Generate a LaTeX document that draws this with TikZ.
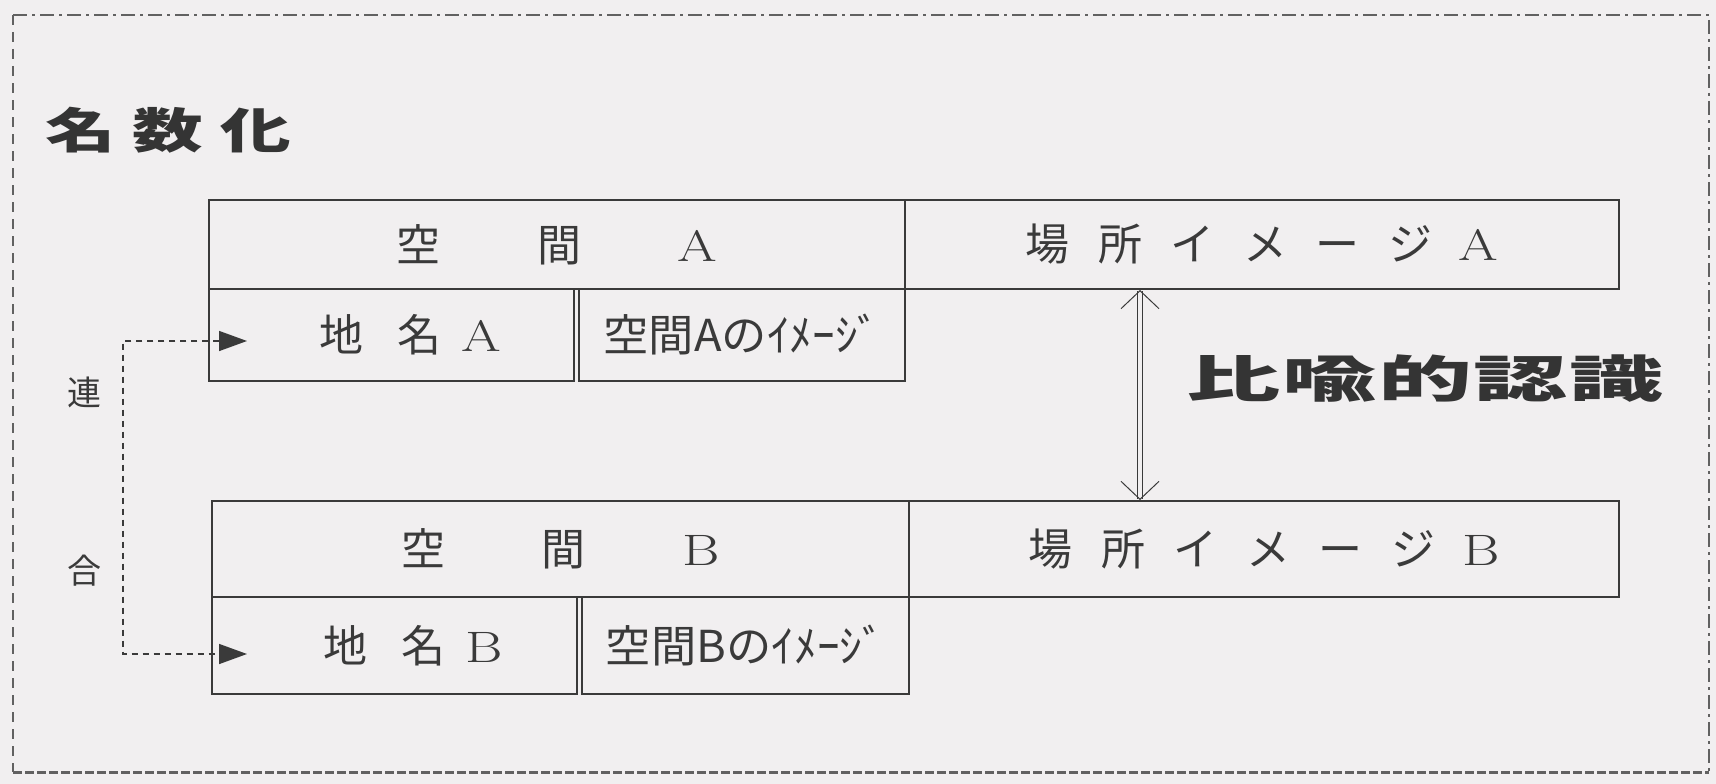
\documentclass[tikz,border=0pt]{standalone}
\usepackage{fontspec}
\usepackage{graphicx}
\usetikzlibrary{arrows.meta,calc}
\newfontfamily\jp{Noto Sans CJK JP}
\definecolor{bg}{RGB}{241,239,240}
\definecolor{ink}{RGB}{58,58,58}
\newcommand{\jg}[1]{\hspace{#1em}}
\newcommand{\lA}[1]{{\rmfamily\scalebox{1.3}[1]{#1}}}
\begin{document}
\begin{tikzpicture}[x=1pt,y=-1pt,
  cell/.style={draw=ink, line width=2pt, rectangle, anchor=north west, inner sep=0pt, text=ink, font=\jp\fontsize{44}{46}\selectfont},
  bigtitle/.style={text=ink!90!black, inner sep=0pt, font=\jp\bfseries\fontsize{48}{50}\selectfont},
  side/.style={text=ink, inner sep=0pt, font=\jp\fontsize{34}{36}\selectfont},
  frame/.style={draw=ink!80, line width=1.2pt},
  conn/.style={draw=ink, line width=1.5pt, dash pattern=on 6pt off 5pt},
  arr/.style={draw=ink, line width=1pt, double=bg, double distance=4pt, {Straight Barb[length=18pt,width=38pt]}-{Straight Barb[length=18pt,width=38pt]}}]
\fill[bg] (0,0) rectangle (1716,784);
\useasboundingbox (0,0) rectangle (1716,784);
% frame
\coordinate (f1) at (13,15);
\coordinate (f2) at (1709,15);
\coordinate (f3) at (1709,772);
\coordinate (f4) at (13,772);
\draw[frame, dash pattern=on 14pt off 5pt on 3pt off 5pt] (f1) -- (f2) -- (f3);
\draw[frame, dash pattern=on 10pt off 7pt] (f1) -- (f4);
\draw[frame, line width=3pt, dash pattern=on 9pt off 3pt] (f4) -- (f3);
% titles
\node[bigtitle] (ttl) at (168,130) {\scalebox{1.47}[1]{名\jg{0.24}数\jg{0.24}化}};
\node[bigtitle, font=\jp\bfseries\fontsize{50}{52}\selectfont] (hiyu) at (1425,379) {\scalebox{1.88}[1]{比\jg{0.02}喩\jg{0.02}的\jg{0.02}認\jg{0.02}識}};
\node[side] (ren) at (84,392) {連};
\node[side] (go) at (84,571) {合};
% group A
\node[cell, minimum width=696pt, minimum height=89pt] (spA) at (208,199) {\raisebox{-5pt}{空\jg{2.2}間\jg{2.2}\lA{A}}};
\node[cell, minimum width=714pt, minimum height=89pt] (plA) at (904,199) {場\jg{0.65}所\jg{0.65}イ\jg{0.65}メ\jg{0.65}ー\jg{0.65}ジ\jg{0.6}\lA{A}};
\node[cell, minimum width=365pt, minimum height=92pt] (cmA) at (208,288) {\raisebox{-6pt}{\hspace*{38pt}地\jg{0.77}名\jg{0.45}\lA{A}}};
\node[cell, minimum width=326pt, minimum height=92pt] (imA) at (578,288) {\raisebox{-3pt}{\scalebox{1.03}[1]{空間Aのｲﾒｰｼﾞ}}};
% group B
\node[cell, minimum width=697pt, minimum height=96pt] (spB) at (211,500) {\raisebox{-5pt}{空\jg{2.2}間\jg{2.2}\lA{B}}};
\node[cell, minimum width=710pt, minimum height=96pt] (plB) at (908,500) {場\jg{0.65}所\jg{0.65}イ\jg{0.65}メ\jg{0.65}ー\jg{0.65}ジ\jg{0.6}\lA{B}};
\node[cell, minimum width=365pt, minimum height=97pt] (cmB) at (211,596) {\raisebox{-6pt}{\hspace*{38pt}地\jg{0.77}名\jg{0.45}\lA{B}}};
\node[cell, minimum width=327pt, minimum height=97pt] (imB) at (581,596) {\raisebox{-3pt}{\scalebox{1.03}[1]{空間Bのｲﾒｰｼﾞ}}};
% dashed link
\coordinate (tipA) at (247,341);
\coordinate (tipB) at (247,654);
\coordinate (lx) at (123,0);
\draw[conn, {Triangle[length=28pt,width=20pt]}-{Triangle[length=28pt,width=20pt]}]
  (tipA) -- (lx |- tipA) -- (lx |- tipB) -- (tipB);
% metaphor arrow
\coordinate (ax) at (1140,0);
\coordinate (aT) at (ax |- plA.south);
\coordinate (aB) at (ax |- plB.north);
\draw[arr] (aT) -- (aB);
\end{tikzpicture}
\end{document}
